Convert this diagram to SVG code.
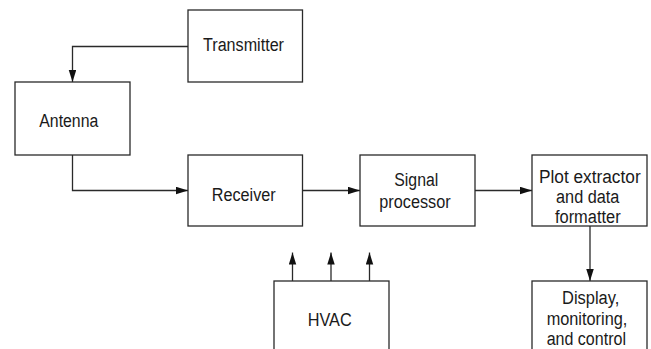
<svg xmlns="http://www.w3.org/2000/svg" width="651" height="349" viewBox="0 0 651 349">
  <style>
    .box { fill: #ffffff; stroke: #2a2a2a; stroke-width: 1.3; }
    .lbl { font-family: "Liberation Sans", Arial, sans-serif; font-size: 18px; fill: #1a1a1a; text-anchor: middle; }
    .conn { fill: none; stroke: #2a2a2a; stroke-width: 1.3; marker-end: url(#arrow); }
  </style>
  <defs>
    <marker id="arrow" markerUnits="userSpaceOnUse" markerWidth="12" markerHeight="8" refX="12" refY="3.75" orient="auto">
      <path d="M0,0 L12,3.75 L0,7.5 z" fill="#111111"/>
    </marker>
  </defs>
  <rect width="651" height="349" fill="#ffffff"/>

  <g id="connectors">
    <path class="conn" d="M188,46.5 H72.5 V82"/>
    <path class="conn" d="M72.5,155 V190.5 H188"/>
    <path class="conn" d="M302,190.5 H360"/>
    <path class="conn" d="M475,190.5 H532"/>
    <path class="conn" d="M590,226 V281"/>
    <path class="conn" d="M292.5,281 V252.5"/>
    <path class="conn" d="M331,281 V252.5"/>
    <path class="conn" d="M369.5,281 V252.5"/>
  </g>

  <g id="transmitter">
    <rect class="box" x="188" y="10" width="114.5" height="72"/>
    <text class="lbl" x="243.5" y="50.7" textLength="81" lengthAdjust="spacingAndGlyphs">Transmitter</text>
  </g>
  <g id="antenna">
    <rect class="box" x="15" y="82" width="115" height="73"/>
    <text class="lbl" x="68.8" y="127" textLength="59" lengthAdjust="spacingAndGlyphs">Antenna</text>
  </g>
  <g id="receiver">
    <rect class="box" x="188" y="155" width="114.5" height="71"/>
    <text class="lbl" x="243.7" y="200.7" textLength="64" lengthAdjust="spacingAndGlyphs">Receiver</text>
  </g>
  <g id="signal-processor">
    <rect class="box" x="360" y="155" width="115" height="71"/>
    <text class="lbl" x="416.3" y="185.7" textLength="44" lengthAdjust="spacingAndGlyphs">Signal</text>
    <text class="lbl" x="415" y="208.3" textLength="71.4" lengthAdjust="spacingAndGlyphs">processor</text>
  </g>
  <g id="plot-extractor">
    <rect class="box" x="532" y="155" width="115" height="71"/>
    <text class="lbl" x="589.8" y="182.5" textLength="101.7" lengthAdjust="spacingAndGlyphs">Plot extractor</text>
    <text class="lbl" x="587.7" y="202.8" textLength="63.3" lengthAdjust="spacingAndGlyphs">and data</text>
    <text class="lbl" x="587.8" y="223" textLength="65.7" lengthAdjust="spacingAndGlyphs">formatter</text>
  </g>
  <g id="display">
    <rect class="box" x="532" y="281" width="115" height="80"/>
    <text class="lbl" x="590.7" y="304" textLength="57.3" lengthAdjust="spacingAndGlyphs">Display,</text>
    <text class="lbl" x="587" y="324.5" textLength="80.7" lengthAdjust="spacingAndGlyphs">monitoring,</text>
    <text class="lbl" x="586.3" y="344.8" textLength="79.3" lengthAdjust="spacingAndGlyphs">and control</text>
  </g>
  <g id="hvac">
    <rect class="box" x="274" y="281" width="115" height="80"/>
    <text class="lbl" x="329.7" y="326" textLength="44" lengthAdjust="spacingAndGlyphs">HVAC</text>
  </g>
</svg>
